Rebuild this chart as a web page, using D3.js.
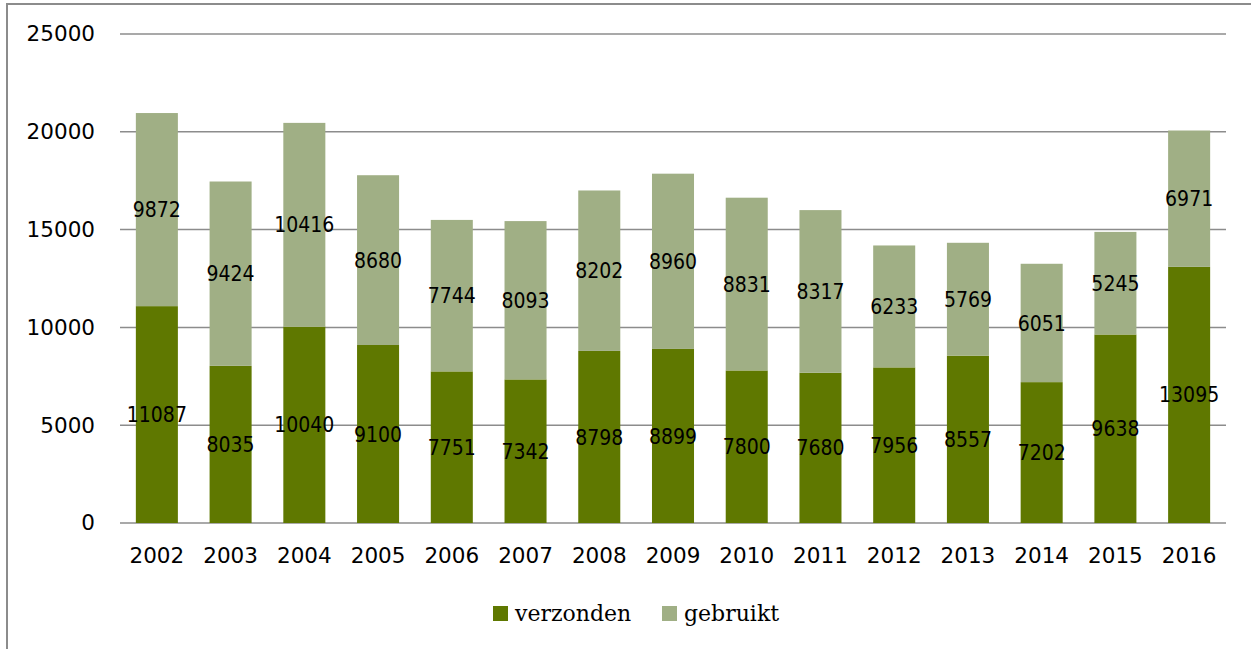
<!DOCTYPE html>
<html>
<head>
<meta charset="utf-8">
<script src="https://cdn.jsdelivr.net/npm/d3@7"></script>
<style>
  body { margin: 0; background: #fff; }
  svg { display: block; }
</style>
</head>
<body>
<svg id="chart" width="1251" height="649"></svg>
<script>
var years = ["2002","2003","2004","2005","2006","2007","2008","2009","2010","2011","2012","2013","2014","2015","2016"];
var verzonden = [11087, 8035, 10040, 9100, 7751, 7342, 8798, 8899, 7800, 7680, 7956, 8557, 7202, 9638, 13095];
var gebruikt = [9872, 9424, 10416, 8680, 7744, 8093, 8202, 8960, 8831, 8317, 6233, 5769, 6051, 5245, 6971];
var yTicks = [0, 5000, 10000, 15000, 20000, 25000];
var seriesNames = ["verzonden", "gebruikt"];
var colors = ["#5f7800", "#a0af85"];

var svg = d3.select("#chart");

// outer frame
svg.append("rect")
  .attr("x", 7).attr("y", 4)
  .attr("width", 1260).attr("height", 660)
  .attr("fill", "none")
  .attr("stroke", "#8c8c8c")
  .attr("stroke-width", 2);

var plotLeft = 120, plotRight = 1226, plotTop = 34, plotBottom = 523;

var x = d3.scaleBand()
  .domain(years)
  .range([plotLeft, plotRight])
  .paddingInner(0.43)
  .paddingOuter(0.215);

var y = d3.scaleLinear()
  .domain([0, 25000])
  .range([plotBottom, plotTop]);

// gridlines
svg.append("g")
  .selectAll("line")
  .data(yTicks)
  .join("line")
  .attr("x1", plotLeft).attr("x2", plotRight)
  .attr("y1", function(d) { return y(d); })
  .attr("y2", function(d) { return y(d); })
  .attr("stroke", "#8c8c8c")
  .attr("stroke-width", 1.5);

// y axis labels
var yAxis = d3.axisLeft(y).tickValues(yTicks).tickSize(0).tickPadding(0).tickFormat(d3.format("d"));
svg.append("g")
  .attr("transform", "translate(95,0)")
  .call(yAxis)
  .call(function(g) { g.select(".domain").remove(); })
  .selectAll("text")
  .attr("font-family", "DejaVu Sans")
  .attr("font-size", "21.5px")
  .attr("fill", "#000");

// x axis labels
var xAxis = d3.axisBottom(x).tickSize(0).tickPadding(0);
svg.append("g")
  .attr("transform", "translate(0,548)")
  .call(xAxis)
  .call(function(g) { g.select(".domain").remove(); })
  .selectAll("text")
  .attr("font-family", "DejaVu Sans")
  .attr("font-size", "21.5px")
  .attr("fill", "#000");

// stack
var rows = years.map(function(yr, i) {
  return { year: yr, verzonden: verzonden[i], gebruikt: gebruikt[i] };
});
var stacked = d3.stack().keys(seriesNames)(rows);

var layers = svg.append("g")
  .selectAll("g")
  .data(stacked)
  .join("g")
  .attr("fill", function(d, i) { return colors[i]; });

layers.selectAll("rect")
  .data(function(d) { return d; })
  .join("rect")
  .attr("x", function(d) { return x(d.data.year); })
  .attr("width", x.bandwidth())
  .attr("y", function(d) { return y(d[1]); })
  .attr("height", function(d) { return y(d[0]) - y(d[1]); });

// value labels
var labels = svg.append("g");
stacked.forEach(function(layer) {
  labels.selectAll(null)
    .data(layer)
    .join("text")
    .attr("x", function(d) { return x(d.data.year) + x.bandwidth() / 2; })
    .attr("y", function(d) { return y((d[0] + d[1]) / 2); })
    .attr("dy", "0.36em")
    .attr("text-anchor", "middle")
    .attr("font-family", "DejaVu Sans Condensed, DejaVu Sans")
    .attr("font-stretch", "condensed")
    .attr("font-size", "21px")
    .attr("fill", "#000")
    .text(function(d) { return d[1] - d[0]; });
});

// legend
var legendItems = [{ name: "verzonden", x: 493 }, { name: "gebruikt", x: 662 }];
var legend = svg.append("g");
legendItems.forEach(function(item, i) {
  legend.append("rect")
    .attr("x", item.x).attr("y", 606)
    .attr("width", 15).attr("height", 15)
    .attr("fill", colors[i]);
  legend.append("text")
    .attr("x", item.x + 22).attr("y", 621)
    .attr("font-family", "DejaVu Serif")
    .attr("font-size", "22px")
    .attr("fill", "#000")
    .text(item.name);
});
</script>
</body>
</html>
